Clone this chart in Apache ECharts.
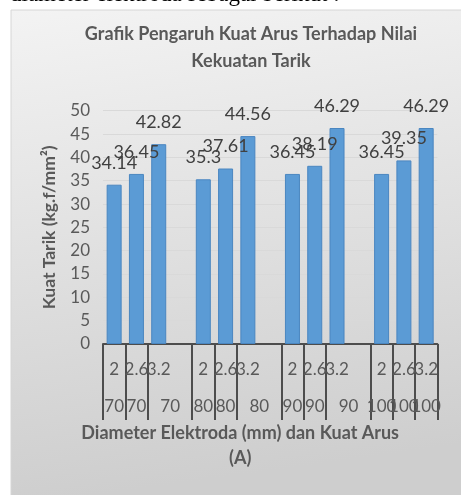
<!DOCTYPE html>
<html><head><meta charset="utf-8">
<script src="https://cdn.jsdelivr.net/npm/echarts@6/dist/echarts.min.js"></script>
<style>html,body{margin:0;padding:0;background:#fff}#c{width:461px;height:495px}</style>
</head><body><div id="c"></div>
<script>
// Data (blank slots separate the current-strength groups, as in the original chart)
const diameterLabels = ['2','2.6','3.2','','2','2.6','3.2','','2','2.6','3.2','','2','2.6','3.2'];
const currentLabels  = ['70','70','70','','80','80','80','','90','90','90','','100','100','100'];
const strength       = [34.14,36.45,42.82,null,35.3,37.61,44.56,null,36.45,38.19,46.29,null,36.45,39.35,46.29];
const titleText = 'Grafik Pengaruh Kuat Arus Terhadap Nilai\nKekuatan Tarik';
const yAxisName = 'Kuat Tarik (kg.f/mm²)';
const xAxisName = 'Diameter Elektroda (mm) dan Kuat Arus\n(A)';
const docText = 'diameter elektroda sebagai berikut :';

const categories = diameterLabels.map((d, i) => d === '' ? 'gap' + i : d + ' / ' + currentLabels[i]);
const isBlank = i => diameterLabels[i] === '';

const chart = echarts.init(document.getElementById('c'), null, {renderer: 'canvas'});
const FONT = 'Lato';
chart.setOption({
  animation: false,
  graphic: [
    {type: 'rect', z: -10, silent: true,
     shape: {x: 11, y: 10, width: 452, height: 487},
     style: {fill: new echarts.graphic.LinearGradient(0, 0, 0.15, 1, [
        {offset: 0, color: '#f3f3f3'}, {offset: 1, color: '#cecece'}]),
       stroke: '#d6d6d6', lineWidth: 1}},
    {type: 'text', left: 10, top: -17, z: -20,
     style: {text: docText, font: '23px "Liberation Serif"', fill: '#000'}},
    {type: 'text', z: 10,
     style: {text: titleText, x: 251, y: 21, align: 'center', verticalAlign: 'top',
       font: 'bold 18px ' + FONT, fill: '#595959', lineHeight: 27}}
  ],
  grid: {left: 103, right: 11, top: 110.7, bottom: 151, containLabel: false},
  xAxis: {
    type: 'category', data: categories,
    axisLine: {show: true, lineStyle: {color: '#4d4d4d', width: 2}},
    axisTick: {show: true, length: 76, alignWithLabel: false,
      interval: (idx) => !isBlank(idx),
      lineStyle: {color: '#4d4d4d', width: 2}},
    axisLabel: {
      interval: 0, margin: 7.5, hideOverlap: false,
      formatter: (v, i) => {
        if (isBlank(i)) return '';
        const shift = i + 1 < diameterLabels.length && isBlank(i + 1);
        return '{d|' + diameterLabels[i] + '}\n{' + (shift ? 'cs' : 'c') + '|' + currentLabels[i] + '}';
      },
      rich: {
        d: {fontFamily: FONT, fontSize: 17, color: '#595959', lineHeight: 37},
        c: {fontFamily: FONT, fontSize: 17, color: '#595959', lineHeight: 37},
        cs: {fontFamily: FONT, fontSize: 17, color: '#595959', lineHeight: 37, padding: [0, 0, 0, 23]}
      }
    },
    name: xAxisName, nameLocation: 'middle', nameGap: 77,
    nameTextStyle: {fontFamily: FONT, fontWeight: 'bold', fontSize: 18, color: '#595959', lineHeight: 25, padding: [0, 60, 0, 0]}
  },
  yAxis: {
    type: 'value', min: 0, max: 50, interval: 5,
    axisLine: {show: false}, axisTick: {show: false},
    axisLabel: {margin: 13, fontFamily: FONT, fontSize: 17, color: '#595959'},
    splitLine: {lineStyle: {color: '#d9d9d9', width: 1}},
    name: yAxisName, nameLocation: 'middle', nameRotate: 90, nameGap: 45,
    nameTextStyle: {fontFamily: FONT, fontWeight: 'bold', fontSize: 17.5, color: '#595959'}
  },
  series: [{
    type: 'bar', data: strength, barWidth: 15,
    itemStyle: {color: '#5b9bd5', borderColor: '#4a86c0', borderWidth: 1},
    label: {show: true, position: 'top', distance: 13, fontFamily: FONT, fontSize: 18, color: '#404040'}
  }]
});
</script></body></html>
